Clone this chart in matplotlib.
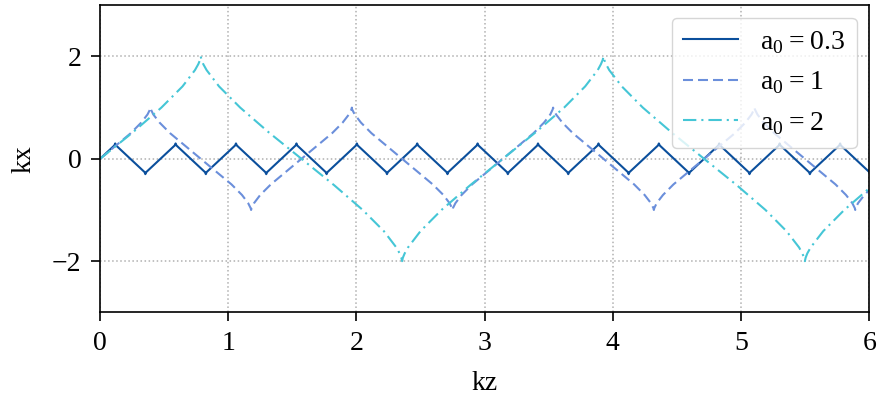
import matplotlib
matplotlib.use("Agg")
import matplotlib.pyplot as plt

# momentum trajectories kx(kz) for three field strengths
kz_03 = [0, 0.111, 0.118, 0.125, 0.236, 0.347, 0.353, 0.360, 0.471,
         0.582, 0.589, 0.596, 0.707, 0.818, 0.825, 0.831, 0.942,
         1.053, 1.060, 1.067, 1.178, 1.289, 1.296, 1.303, 1.414,
         1.525, 1.532, 1.538, 1.649, 1.760, 1.767, 1.774, 1.885,
         1.996, 2.003, 2.010, 2.121, 2.232, 2.238, 2.245, 2.356,
         2.467, 2.474, 2.481, 2.592, 2.703, 2.710, 2.716, 2.827,
         2.938, 2.945, 2.952, 3.063, 3.174, 3.181, 3.188, 3.299,
         3.410, 3.416, 3.423, 3.534, 3.645, 3.652, 3.659, 3.770,
         3.881, 3.888, 3.895, 4.006, 4.117, 4.123, 4.130, 4.241,
         4.352, 4.359, 4.366, 4.477, 4.588, 4.595, 4.601, 4.712,
         4.823, 4.830, 4.837, 4.948, 5.059, 5.066, 5.073, 5.184,
         5.295, 5.301, 5.308, 5.419, 5.530, 5.537, 5.544, 5.655,
         5.766, 5.773, 5.779, 5.890, 6.001, 6.008]
kx_03 = [0, 0.26, 0.3, 0.26, 0, -0.26, -0.3, -0.26, 0,
         0.26, 0.3, 0.26, 0, -0.26, -0.3, -0.26, 0,
         0.26, 0.3, 0.26, 0, -0.26, -0.3, -0.26, 0,
         0.26, 0.3, 0.26, 0, -0.26, -0.3, -0.26, 0,
         0.26, 0.3, 0.26, 0, -0.26, -0.3, -0.26, 0,
         0.26, 0.3, 0.26, 0, -0.26, -0.3, -0.26, 0,
         0.26, 0.3, 0.26, 0, -0.26, -0.3, -0.26, 0,
         0.26, 0.3, 0.26, 0, -0.26, -0.3, -0.26, 0,
         0.26, 0.3, 0.26, 0, -0.26, -0.3, -0.26, 0,
         0.26, 0.3, 0.26, 0, -0.26, -0.3, -0.26, 0,
         0.26, 0.3, 0.26, 0, -0.26, -0.3, -0.26, 0,
         0.26, 0.3, 0.26, 0, -0.26, -0.3, -0.26, 0,
         0.26, 0.3, 0.26, 0, -0.26, -0.3]

kz_1 = [0, 0.239, 0.321, 0.370, 0.390, 0.393,
        0.396, 0.415, 0.464, 0.546, 0.785,
        1.025, 1.107, 1.155, 1.175, 1.178,
        1.181, 1.201, 1.249, 1.332, 1.571,
        1.810, 1.892, 1.941, 1.961, 1.964,
        1.966, 1.986, 2.035, 2.117, 2.356,
        2.595, 2.678, 2.726, 2.746, 2.749,
        2.752, 2.772, 2.820, 2.902, 3.142,
        3.381, 3.463, 3.512, 3.531, 3.534,
        3.537, 3.557, 3.606, 3.688, 3.927,
        4.166, 4.248, 4.297, 4.317, 4.320,
        4.323, 4.342, 4.391, 4.473, 4.712,
        4.952, 5.034, 5.082, 5.102, 5.105,
        5.108, 5.128, 5.176, 5.259, 5.498,
        5.737, 5.819, 5.868, 5.888, 5.891,
        5.893, 5.913, 5.962, 6.044]
kx_1 = [0, 0.5, 0.707, 0.866, 0.966, 1.0,
        0.966, 0.866, 0.707, 0.5, 0,
        -0.5, -0.707, -0.866, -0.966, -1.0,
        -0.966, -0.866, -0.707, -0.5, 0,
        0.5, 0.707, 0.866, 0.966, 1.0,
        0.966, 0.866, 0.707, 0.5, 0,
        -0.5, -0.707, -0.866, -0.966, -1.0,
        -0.966, -0.866, -0.707, -0.5, 0,
        0.5, 0.707, 0.866, 0.966, 1.0,
        0.966, 0.866, 0.707, 0.5, 0,
        -0.5, -0.707, -0.866, -0.966, -1.0,
        -0.966, -0.866, -0.707, -0.5, 0,
        0.5, 0.707, 0.866, 0.966, 1.0,
        0.966, 0.866, 0.707, 0.5, 0,
        -0.5, -0.707, -0.866, -0.966, -1.0,
        -0.966, -0.866, -0.707, -0.5]

kz_2 = [0, 0.256, 0.478, 0.643, 0.740, 0.766, 0.780, 0.785,
        0.791, 0.805, 0.831, 0.928, 1.093, 1.315, 1.571,
        1.827, 2.049, 2.214, 2.311, 2.337, 2.350, 2.356,
        2.362, 2.376, 2.402, 2.499, 2.663, 2.886, 3.142,
        3.398, 3.620, 3.784, 3.882, 3.907, 3.921, 3.927,
        3.933, 3.947, 3.972, 4.070, 4.234, 4.457, 4.712,
        4.968, 5.191, 5.355, 5.453, 5.478, 5.492, 5.498,
        5.504, 5.517, 5.543, 5.641, 5.805, 6.027]
kx_2 = [0, 0.518, 1.0, 1.414, 1.732, 1.848, 1.932, 2.0,
        1.932, 1.848, 1.732, 1.414, 1.0, 0.518, 0,
        -0.518, -1.0, -1.414, -1.732, -1.848, -1.932, -2.0,
        -1.932, -1.848, -1.732, -1.414, -1.0, -0.518, 0,
        0.518, 1.0, 1.414, 1.732, 1.848, 1.932, 2.0,
        1.932, 1.848, 1.732, 1.414, 1.0, 0.518, 0,
        -0.518, -1.0, -1.414, -1.732, -1.848, -1.932, -2.0,
        -1.932, -1.848, -1.732, -1.414, -1.0, -0.518]

plt.rcParams['font.family'] = ['Liberation Serif', 'DejaVu Serif']
plt.rcParams['mathtext.fontset'] = 'custom'
plt.rcParams['mathtext.rm'] = 'Liberation Serif'
plt.rcParams['font.size'] = 20

fig, ax = plt.subplots(figsize=(8.78, 4.01), dpi=100)
fig.subplots_adjust(left=0.114, right=0.99, top=0.987, bottom=0.221)

ax.plot(kz_03, kx_03, color='#0b4f9c', lw=1.5, label=r'$\mathrm{a}_0 = 0.3$')
ax.plot(kz_1, kx_1, color='#6b8fdb', lw=1.5, ls=(0, (4.8, 2.4)), label=r'$\mathrm{a}_0 = 1$')
ax.plot(kz_2, kx_2, color='#45c6d6', lw=1.5, ls=(0, (6.4, 2.4, 1, 2.4)), label=r'$\mathrm{a}_0 = 2$')

ax.set_xlim(0, 6)
ax.set_ylim(-3, 3)
ax.set_xticks([0, 1, 2, 3, 4, 5, 6])
ax.set_yticks([-2, 0, 2])
ax.grid(True, ls=':', color='#b0b0b0', lw=1.1)
ax.tick_params(direction='out', length=6.5, width=1.2, pad=7)
for s in ax.spines.values():
    s.set_linewidth(1.2)

ax.set_xlabel('kz', labelpad=11)
ax.set_ylabel('kx', labelpad=11)
ax.legend(loc='upper right', handlelength=2.0, edgecolor='#cccccc', framealpha=0.8,
          borderaxespad=0.45)

plt.savefig('out.png', dpi=100)
